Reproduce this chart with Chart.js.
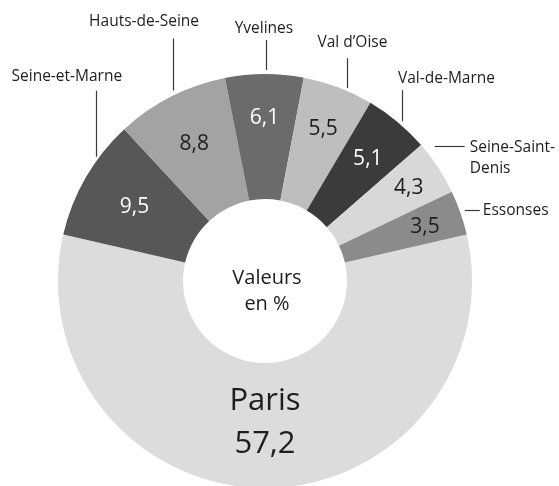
<!DOCTYPE html>
<html><head><meta charset="utf-8">
<script src="https://cdn.jsdelivr.net/npm/chart.js@4.4.1/dist/chart.umd.min.js"></script>
<style>html,body{margin:0;padding:0;overflow:hidden;background:#fff;width:559px;height:486px}canvas{display:block}</style>
</head><body>
<canvas id="c" width="559" height="490"></canvas>
<script>
const categories = ["Paris","Seine-et-Marne","Hauts-de-Seine","Yvelines","Val d\u2019Oise","Val-de-Marne","Seine-Saint-Denis","Essonses"];
const labelLines = [["Paris"],["Seine-et-Marne"],["Hauts-de-Seine"],["Yvelines"],["Val d\u2019Oise"],["Val-de-Marne"],["Seine-Saint-","Denis"],["Essonses"]];
const values = [57.2, 9.5, 8.8, 6.1, 5.5, 5.1, 4.3, 3.5];
const valueLabels = ["57,2","9,5","8,8","6,1","5,5","5,1","4,3","3,5"];
const colors = ["#dcdcdc","#575757","#a3a3a3","#6b6b6b","#bebebe","#3b3b3b","#d8d8d8","#8b8b8b"];
const valueTextColors = ["#1e1e1e","#ffffff","#1e1e1e","#ffffff","#1e1e1e","#ffffff","#1e1e1e","#1e1e1e"];
const centerText = ["Valeurs","en %"];

const FONT = "'Open Sans', 'DejaVu Sans', sans-serif";
const CAP = 0.714;
// layout of annotations (radial fraction of value labels, callouts)
const valueRadial = [0.63, 0.55, 0.59, 0.66, 0.66, 0.63, 0.72, 0.70];
const callouts = {
  1:{frac:0.65, dir:'up', gap:5, len:66, dx:-29, dy:-15},
  2:{frac:0.52, dir:'up', gap:5, len:52, dx:-29, dy:-18},
  3:{frac:0.52, dir:'up', gap:4, len:30, dx:-2, dy:-12.5},
  4:{frac:0.64, dir:'up', gap:3, len:30, dx:5, dy:-16.5},
  5:{frac:0.60, dir:'up', gap:5, len:31, dx:44, dy:-13},
  6:{frac:0.03, dir:'right', gap:12.5, len:30, dx:5, lh:21},
  7:{frac:0.43, dir:'right', gap:5.5, len:15, dx:3, lh:21}
};

function capText(ctx, txt, x, cy, size, color, align){
  ctx.font = size + "px " + FONT;
  ctx.fillStyle = color;
  ctx.textAlign = align || 'center';
  ctx.textBaseline = 'alphabetic';
  ctx.fillText(txt, x, cy + size*CAP/2);
}

const labelPlugin = {
  id:'labels',
  afterDatasetsDraw(chart){
    const ctx = chart.ctx;
    const meta = chart.getDatasetMeta(0);
    ctx.save();
    meta.data.forEach((arc, i) => {
      const p = arc.getProps(['x','y','startAngle','endAngle','innerRadius','outerRadius'], true);
      const mid = (p.startAngle + p.endAngle)/2;
      const span = p.outerRadius - p.innerRadius;
      if (i === 0) {
        const r1 = p.innerRadius + 0.29*span;
        const r2 = p.innerRadius + valueRadial[0]*span;
        capText(ctx, labelLines[0][0], p.x + r1*Math.cos(mid), p.y + r1*Math.sin(mid), 31, valueTextColors[0]);
        capText(ctx, valueLabels[0], p.x + r2*Math.cos(mid), p.y + r2*Math.sin(mid), 31, valueTextColors[0]);
      } else {
        const r = p.innerRadius + valueRadial[i]*span;
        capText(ctx, valueLabels[i], p.x + r*Math.cos(mid), p.y + r*Math.sin(mid), 21, valueTextColors[i]);
      }
      const c = callouts[i];
      if (c) {
        const a = p.startAngle + c.frac*(p.endAngle - p.startAngle);
        const tx = p.x + p.outerRadius*Math.cos(a);
        const ty = p.y + p.outerRadius*Math.sin(a);
        ctx.strokeStyle = '#3a3a3a';
        ctx.lineWidth = 1.2;
        ctx.beginPath();
        if (c.dir === 'up') {
          const x = Math.round(tx) + 0.5;
          const yb = ty - c.gap, yt = ty - c.gap - c.len;
          ctx.moveTo(x, yb); ctx.lineTo(x, yt); ctx.stroke();
          capText(ctx, labelLines[i][0], tx + c.dx, yt + c.dy, 15.5, '#1e1e1e');
        } else {
          const y = Math.round(ty) + 0.5;
          const xl = tx + c.gap, xr = tx + c.gap + c.len;
          ctx.moveTo(xl, y); ctx.lineTo(xr, y); ctx.stroke();
          labelLines[i].forEach((ln, k) => capText(ctx, ln, xr + c.dx, ty + k*c.lh, 15.5, '#1e1e1e', 'left'));
        }
      }
    });
    const p0 = meta.data[0].getProps(['x','y'], true);
    capText(ctx, centerText[0], p0.x + 2, p0.y - 4, 20, '#1e1e1e');
    capText(ctx, centerText[1], p0.x + 2, p0.y + 22, 20, '#1e1e1e');
    ctx.restore();
  }
};

const parisShare = values[0] / values.reduce((s,v)=>s+v,0);
new Chart(document.getElementById('c'), {
  type:'doughnut',
  data:{ labels:categories, datasets:[{ data:values, backgroundColor:colors, borderWidth:0, hoverOffset:0, offset:0 }] },
  options:{
    responsive:false, animation:false, events:[],
    rotation: 180 - parisShare*360/2,
    cutout:'39.6%',
    layout:{ padding:{ left:58, right:87, top:74, bottom:2 } },
    plugins:{ legend:{display:false}, tooltip:{enabled:false} }
  },
  plugins:[labelPlugin]
});
</script>
</body></html>
